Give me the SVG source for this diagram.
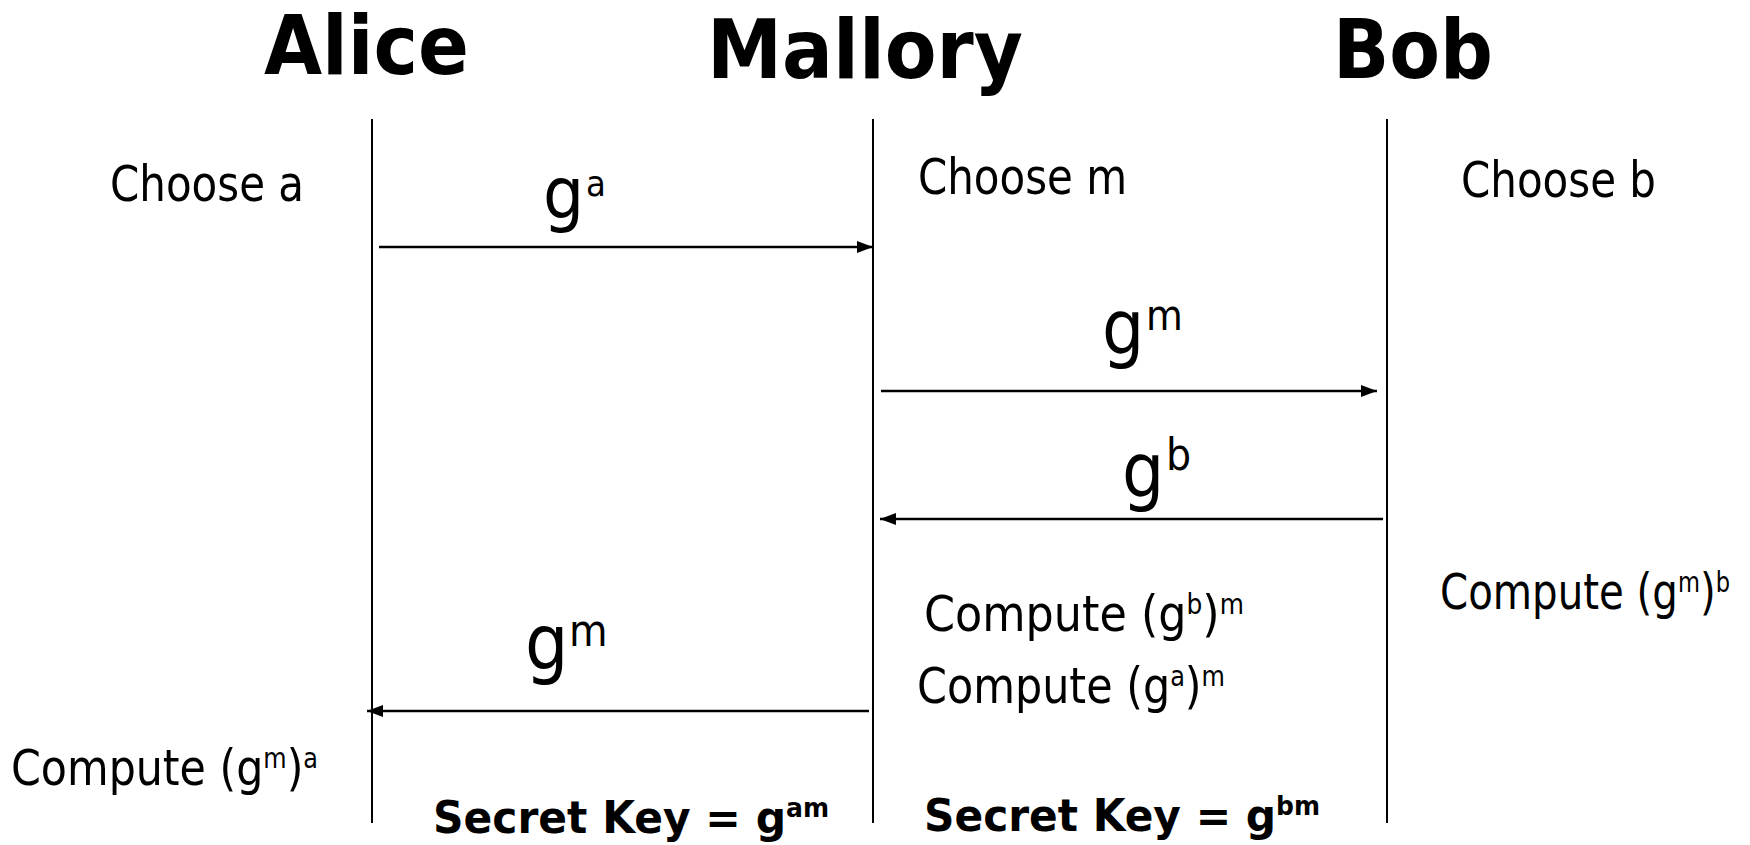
<svg xmlns="http://www.w3.org/2000/svg" width="1750" height="845" viewBox="0 0 1750 845">
<style>
  .t{font-family:'DejaVu Sans Condensed','DejaVu Sans',sans-serif;font-stretch:condensed;fill:#000}
  .h{font-family:'DejaVu Sans','DejaVu Sans Condensed',sans-serif;font-weight:bold;font-size:82px;fill:#000}
  .r{font-size:50px}
  .b{font-weight:bold;font-size:44px}
  .life{stroke:#000;stroke-width:2}
  .msg{stroke:#000;stroke-width:2.5;fill:none;marker-end:url(#ah)}
</style>
<defs>
  <marker id="ah" markerUnits="userSpaceOnUse" markerWidth="16" markerHeight="12" refX="16" refY="6" orient="auto">
    <path d="M0,0 L16,6 L0,12 z" fill="#000"/>
  </marker>
</defs>
<rect width="1750" height="845" fill="#fff"/>

<g id="alice">
  <text class="h" x="264" y="74" textLength="205" lengthAdjust="spacingAndGlyphs">Alice</text>
  <line class="life" x1="372" y1="119" x2="372" y2="823"/>
  <text class="t r" x="110" y="201" textLength="194" lengthAdjust="spacingAndGlyphs">Choose a</text>
  <text class="t r" x="11" y="785" textLength="307" lengthAdjust="spacingAndGlyphs">Compute (g<tspan font-size="28" dy="-17">m</tspan><tspan dy="17">)</tspan><tspan font-size="28" dy="-17">a</tspan></text>
  <text class="t b" x="433" y="833" textLength="396" lengthAdjust="spacingAndGlyphs">Secret Key = g<tspan font-size="26" dy="-16">am</tspan></text>
</g>

<g id="mallory">
  <text class="h" x="707" y="78" textLength="316" lengthAdjust="spacingAndGlyphs">Mallory</text>
  <line class="life" x1="873" y1="119" x2="873" y2="823"/>
  <text class="t r" x="918" y="194" textLength="209" lengthAdjust="spacingAndGlyphs">Choose m</text>
  <text class="t r" x="924" y="631" textLength="320" lengthAdjust="spacingAndGlyphs">Compute (g<tspan font-size="28" dy="-17">b</tspan><tspan dy="17">)</tspan><tspan font-size="28" dy="-17">m</tspan></text>
  <text class="t r" x="917" y="703" textLength="308" lengthAdjust="spacingAndGlyphs">Compute (g<tspan font-size="28" dy="-17">a</tspan><tspan dy="17">)</tspan><tspan font-size="28" dy="-17">m</tspan></text>
  <text class="t b" x="924" y="831" textLength="396" lengthAdjust="spacingAndGlyphs">Secret Key = g<tspan font-size="26" dy="-16">bm</tspan></text>
</g>

<g id="bob">
  <text class="h" x="1333" y="78" textLength="160" lengthAdjust="spacingAndGlyphs">Bob</text>
  <line class="life" x1="1387" y1="119" x2="1387" y2="823"/>
  <text class="t r" x="1461" y="197" textLength="195" lengthAdjust="spacingAndGlyphs">Choose b</text>
  <text class="t r" x="1440" y="609" textLength="290" lengthAdjust="spacingAndGlyphs">Compute (g<tspan font-size="28" dy="-17">m</tspan><tspan dy="17">)</tspan><tspan font-size="28" dy="-17">b</tspan></text>
</g>

<g id="connectors">
  <line class="msg" x1="379" y1="247" x2="873" y2="247"/>
  <text class="t" font-size="72"><tspan x="543" y="218">g</tspan><tspan x="586" y="196" font-size="36">a</tspan></text>

  <line class="msg" x1="881" y1="391" x2="1377" y2="391"/>
  <text class="t" font-size="74"><tspan x="1102" y="353">g</tspan><tspan x="1146" y="330" font-size="42">m</tspan></text>

  <line class="msg" x1="1383" y1="519" x2="880" y2="519"/>
  <text class="t" font-size="74"><tspan x="1122" y="496">g</tspan><tspan x="1166" y="470" font-size="44">b</tspan></text>

  <line class="msg" x1="869" y1="711" x2="367" y2="711"/>
  <text class="t" font-size="76"><tspan x="525" y="669">g</tspan><tspan x="569" y="646" font-size="44">m</tspan></text>
</g>
</svg>
